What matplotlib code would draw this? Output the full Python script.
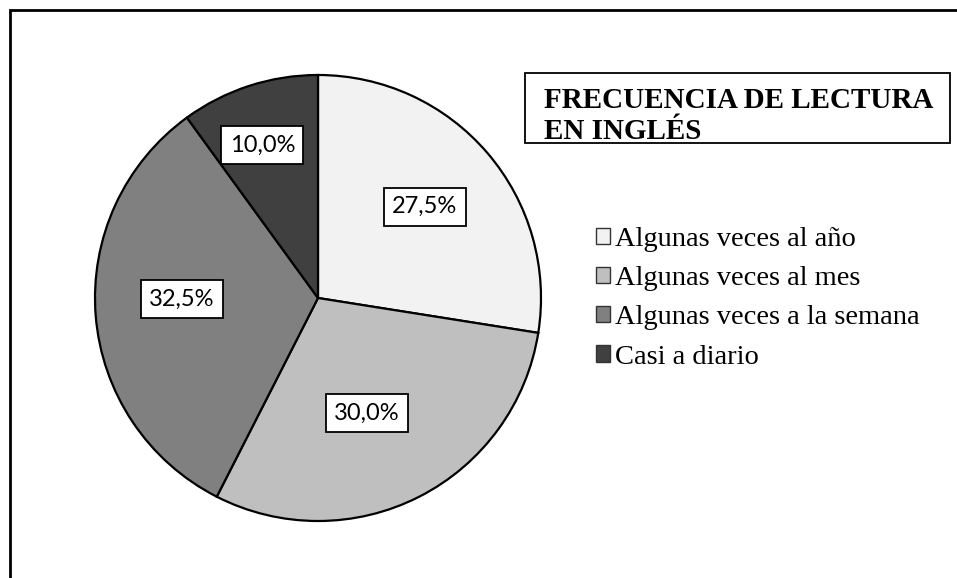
import numpy as np
import matplotlib
matplotlib.use('Agg')
import matplotlib.pyplot as plt
from matplotlib.patches import Rectangle

categorias = ['Algunas veces al año', 'Algunas veces al mes',
              'Algunas veces a la semana', 'Casi a diario']
porcentajes = [27.5, 30.0, 32.5, 10.0]
etiquetas = ['27,5%', '30,0%', '32,5%', '10,0%']
colores = ['#F2F2F2', '#BFBFBF', '#808080', '#404040']
titulo = 'FRECUENCIA DE LECTURA\nEN INGLÉS'

W, H = 957, 578
fig = plt.figure(figsize=(W/100, H/100), dpi=100)

# marco exterior (solo se ven el borde superior e izquierdo)
fig.patches.append(Rectangle((10/W, -0.2), 1.5, 1.2 - 10/H, transform=fig.transFigure,
                             fill=False, edgecolor='black', linewidth=2.0, clip_on=False))

# tarta: centro (318,298), radio 223 px
cx, cy, R = 318, 298, 223
pad = 1.1
ax = fig.add_axes([(cx - R*pad)/W, (H - cy - R*pad)/H, 2*R*pad/W, 2*R*pad/H])
wedges, _ = ax.pie(porcentajes, colors=colores, startangle=90, counterclock=False,
                   radius=1, wedgeprops=dict(edgecolor='black', linewidth=1.6))
ax.set_xlim(-pad, pad)
ax.set_ylim(-pad, pad)
ax.set_aspect('auto')
ax.axis('off')

dist = [0.63, 0.56, 0.61, 0.73]
giro = [0, -4, -4, 2]   # pequeño ajuste angular de cada etiqueta
for w, lab, d, g in zip(wedges, etiquetas, dist, giro):
    ang = np.deg2rad((w.theta1 + w.theta2) / 2 + g)
    ax.text(d*np.cos(ang), d*np.sin(ang), lab, ha='center', va='center',
            fontsize=17, family='Lato',
            bbox=dict(boxstyle='square,pad=0.35', facecolor='white',
                      edgecolor='black', linewidth=1.3))

# caja del título
fig.patches.append(Rectangle((525/W, 1 - 143/H), (950-525)/W, (143-73)/H,
                             transform=fig.transFigure, fill=False,
                             edgecolor='black', linewidth=1.3))
fig.text(544/W, 1 - 116/H, titulo, ha='left', va='center', fontsize=21,
         family='Liberation Serif', fontweight='bold', linespacing=1.2)

leg = fig.legend(wedges, categorias, loc='upper left',
                 bbox_to_anchor=(596/W, 1 - 227/H), frameon=False,
                 prop=dict(family='Liberation Serif', size=20.5),
                 handlelength=0.5, handleheight=0.5, handletextpad=0.15,
                 labelspacing=0.5, borderaxespad=0, borderpad=0)
for h in leg.legend_handles:
    h.set_linewidth(1.0)
    h.set_edgecolor('#333333')

fig.savefig('out.png', dpi=100)
